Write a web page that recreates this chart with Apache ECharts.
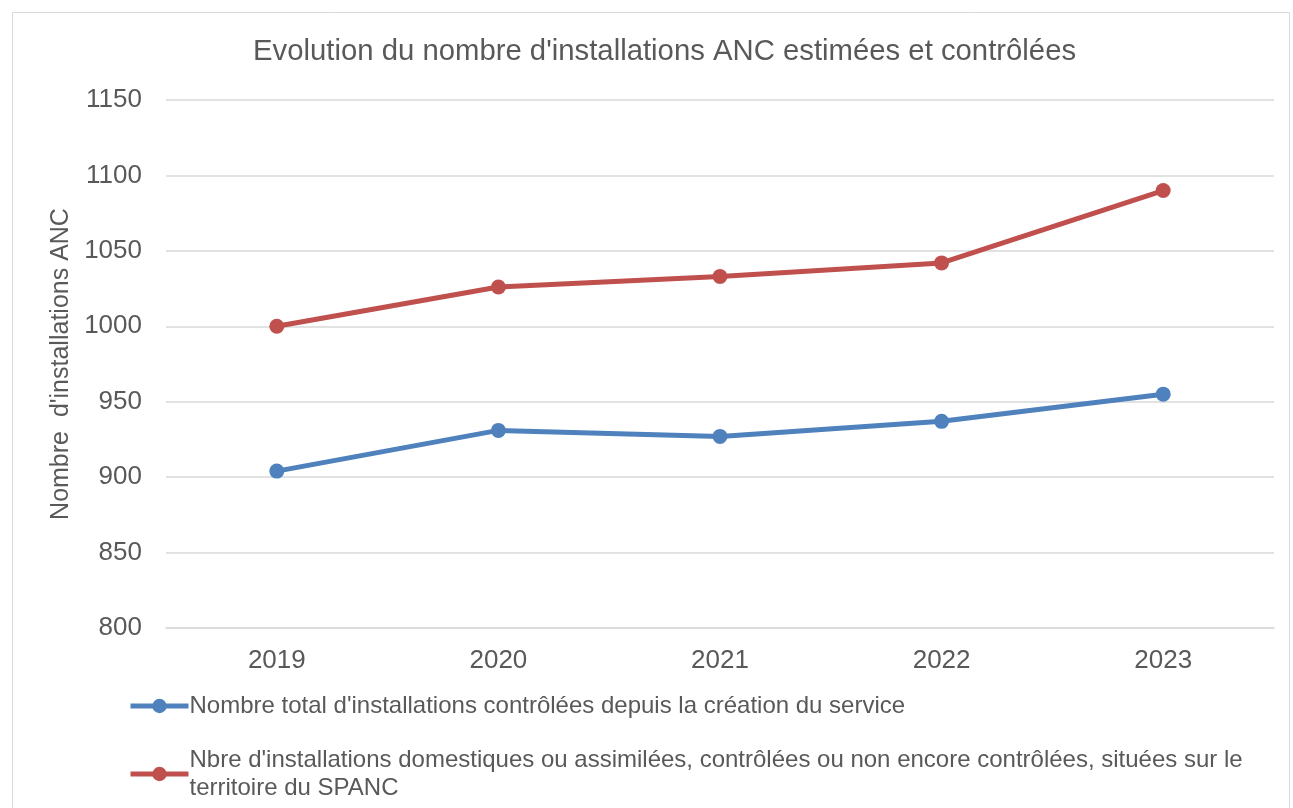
<!DOCTYPE html>
<html>
<head>
<meta charset="utf-8">
<script src="https://cdn.jsdelivr.net/npm/echarts@6/dist/echarts.min.js"></script>
<style>
    html, body { margin: 0; padding: 0; background: #fff; }
    #chart { width: 1293px; height: 808px; }
</style>
</head>
<body>
<div id="chart"></div>
<script>
const years = ['2019', '2020', '2021', '2022', '2023']
const controlees = [904, 931, 927, 937, 955]
const territoire = [1000, 1026, 1033, 1042, 1090]
const nameControlees = "Nombre total d'installations contrôlées depuis la création du service"
const nameTerritoire = "Nbre d'installations domestiques ou assimilées, contrôlées ou non encore contrôlées, situées sur le territoire du SPANC"

const textColor = '#595959'
const font = 'Liberation Sans, Arial, sans-serif'

// legend style shared by the two stacked legends
const legendBase = {
    orient: 'vertical',
    left: 128,
    padding: 0,
    itemWidth: 58,
    itemHeight: 18,
    lineStyle: { width: 5 },
    // the long label wraps before "territoire" like the original
    formatter: (name) => name.replace(' territoire', '\nterritoire'),
    textStyle: {
        color: textColor,
        fontSize: 24,
        fontFamily: font,
        lineHeight: 28,
        padding: [0, 0, 0, -4]
    }
}

const myChart = echarts.init(document.getElementById('chart'))
myChart.setOption({
    animation: false,
    textStyle: { fontFamily: font },
    graphic: [
        {
            type: 'rect',
            shape: { x: 12.5, y: 12.5, width: 1277, height: 820 },
            style: { fill: 'none', stroke: '#d9d9d9', lineWidth: 1 }
        }
    ],
    title: {
        text: 'Evolution du nombre d\'installations ANC estimées et contrôlées',
        left: 248,
        top: 32,
        textStyle: {
            color: textColor,
            fontSize: 29.3,
            fontWeight: 'normal',
            fontFamily: font
        }
    },
    grid: {
        left: 166,
        right: 19,
        top: 100,
        bottom: 180
    },
    legend: [
        Object.assign({}, legendBase, { top: 692, data: [nameControlees] }),
        Object.assign({}, legendBase, { top: 746, data: [nameTerritoire] })
    ],
    xAxis: {
        type: 'category',
        data: years,
        axisLine: { show: true, lineStyle: { color: '#d9d9d9', width: 1.5 } },
        axisTick: { show: false },
        axisLabel: {
            color: textColor,
            fontSize: 26,
            margin: 20
        }
    },
    yAxis: {
        type: 'value',
        min: 800,
        max: 1150,
        interval: 50,
        name: "Nombre  d'installations ANC",
        nameLocation: 'middle',
        nameGap: 92,
        nameTextStyle: {
            color: textColor,
            fontSize: 25,
            fontFamily: font
        },
        axisLine: { show: false },
        axisTick: { show: false },
        splitLine: { lineStyle: { color: '#d9d9d9', width: 1.5 } },
        axisLabel: {
            color: textColor,
            fontSize: 26,
            margin: 24,
            formatter: (v) => String(v)
        }
    },
    series: [
        {
            name: nameControlees,
            type: 'line',
            data: controlees,
            symbol: 'circle',
            symbolSize: 15,
            itemStyle: { color: '#4f81bd' },
            lineStyle: { color: '#4f81bd', width: 5 }
        },
        {
            name: nameTerritoire,
            type: 'line',
            data: territoire,
            symbol: 'circle',
            symbolSize: 15,
            itemStyle: { color: '#c0504d' },
            lineStyle: { color: '#c0504d', width: 5 }
        }
    ]
})
</script>
</body>
</html>
